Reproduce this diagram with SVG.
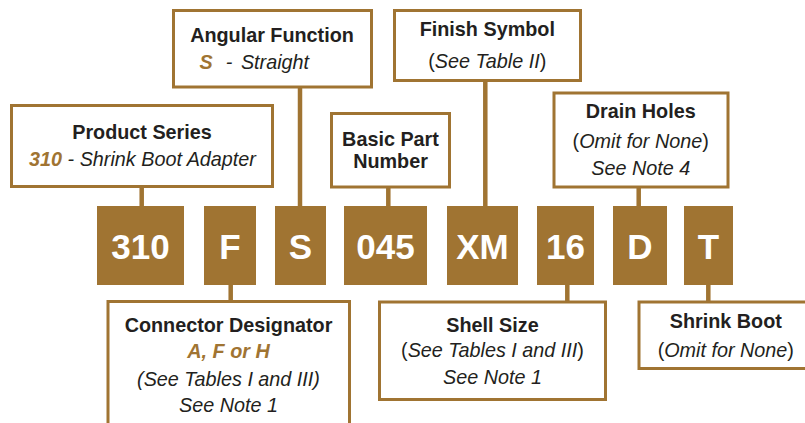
<svg xmlns="http://www.w3.org/2000/svg" width="805" height="423" viewBox="0 0 805 423">
<style>
.box{fill:#fff;stroke:#A07432;stroke-width:3}
.code{fill:#A07432}
.ct{font-family:"Liberation Sans",Arial,sans-serif;font-weight:bold;font-size:35px;fill:#fff;text-anchor:middle}
.t{font-family:"Liberation Sans",Arial,sans-serif;font-weight:bold;font-size:19.8px;fill:#231F20;text-anchor:middle}
.s{font-family:"Liberation Sans",Arial,sans-serif;font-style:italic;font-size:19.8px;fill:#231F20;text-anchor:middle}
.u{font-style:normal}
.b{font-weight:bold;fill:#A07432}
.ln{stroke:#A07432;stroke-width:4.5;fill:none}
</style>
<g id="connectors">
<line class="ln" x1="141.7" y1="188" x2="141.7" y2="206"/>
<line class="ln" x1="300" y1="88" x2="300" y2="206"/>
<line class="ln" x1="388.3" y1="188" x2="388.3" y2="206"/>
<line class="ln" x1="485.3" y1="81" x2="485.3" y2="206"/>
<line class="ln" x1="638.7" y1="188" x2="638.7" y2="206"/>
<line class="ln" x1="230.7" y1="285" x2="230.7" y2="301"/>
<line class="ln" x1="567.3" y1="285" x2="567.3" y2="301"/>
<line class="ln" x1="708.3" y1="285" x2="708.3" y2="301"/>
</g>
<g id="code-310"><rect class="code" x="97" y="206" width="87" height="79"/><text class="ct" x="140.5" y="259">310</text></g>
<g id="code-F"><rect class="code" x="204" y="206" width="52" height="79"/><text class="ct" x="230" y="259">F</text></g>
<g id="code-S"><rect class="code" x="275" y="206" width="51" height="79"/><text class="ct" x="300.5" y="259">S</text></g>
<g id="code-045"><rect class="code" x="344" y="206" width="83" height="79"/><text class="ct" x="385.5" y="259">045</text></g>
<g id="code-XM"><rect class="code" x="447" y="206" width="71" height="79"/><text class="ct" x="482.5" y="259">XM</text></g>
<g id="code-16"><rect class="code" x="537" y="206" width="57" height="79"/><text class="ct" x="565.5" y="259">16</text></g>
<g id="code-D"><rect class="code" x="613" y="206" width="54" height="79"/><text class="ct" x="640" y="259">D</text></g>
<g id="code-T"><rect class="code" x="684" y="206" width="49" height="79"/><text class="ct" x="708.5" y="259">T</text></g>
<g id="product-series">
<rect class="box" x="11.5" y="105.5" width="261" height="81"/>
<text class="t" x="142" y="139.3">Product Series</text>
<text class="s" x="142.5" y="165.7"><tspan class="b">310</tspan> - Shrink Boot Adapter</text>
</g>
<g id="angular-function">
<rect class="box" x="173.5" y="10.5" width="198" height="76.5"/>
<text class="t" x="272" y="41.7">Angular Function</text>
<text class="s" x="206" y="69.3"><tspan class="b">S</tspan></text>
<text class="s" x="229" y="69.3">-</text>
<text class="s" x="275" y="69.3">Straight</text>
</g>
<g id="basic-part-number">
<rect class="box" x="331.5" y="113.5" width="118" height="73.5"/>
<text class="t" x="390.5" y="145.7">Basic Part</text>
<text class="t" x="390.5" y="168.3">Number</text>
</g>
<g id="finish-symbol">
<rect class="box" x="394.5" y="10.5" width="186" height="70"/>
<text class="t" x="487.3" y="36">Finish Symbol</text>
<text class="s" x="487.3" y="68.3"><tspan class="u">(</tspan>See Table II<tspan class="u">)</tspan></text>
</g>
<g id="drain-holes">
<rect class="box" x="554" y="93" width="174" height="94"/>
<text class="t" x="640.7" y="118.3">Drain Holes</text>
<text class="s" x="640.7" y="148.3"><tspan class="u">(</tspan>Omit for None<tspan class="u">)</tspan></text>
<text class="s" x="640.7" y="175">See Note 4</text>
</g>
<g id="connector-designator">
<rect class="box" x="108" y="301.5" width="241.5" height="140"/>
<text class="t" x="228.5" y="331.7">Connector Designator</text>
<text class="s b" x="228.5" y="358.3">A, F or H</text>
<text class="s" x="228.5" y="385.7">(See Tables I and III)</text>
<text class="s" x="228.5" y="412.3">See Note 1</text>
</g>
<g id="shell-size">
<rect class="box" x="379.5" y="302" width="226" height="97.5"/>
<text class="t" x="492.5" y="331.7">Shell Size</text>
<text class="s" x="492.5" y="356.7"><tspan class="u">(</tspan>See Tables I and III<tspan class="u">)</tspan></text>
<text class="s" x="492.5" y="384.3">See Note 1</text>
</g>
<g id="shrink-boot">
<rect class="box" x="639" y="302" width="200" height="66.5"/>
<text class="t" x="725.8" y="327.7">Shrink Boot</text>
<text class="s" x="725.8" y="356.7"><tspan class="u">(</tspan>Omit for None<tspan class="u">)</tspan></text>
</g>
</svg>
